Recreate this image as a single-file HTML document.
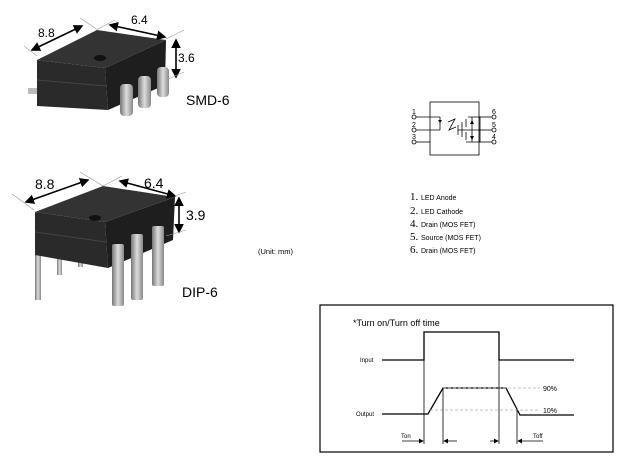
<!DOCTYPE html>
<html><head><style>
body{margin:0;background:#fff;width:619px;height:463px;overflow:hidden;font-family:"Liberation Sans",sans-serif}
svg{position:absolute;left:0;top:0}
</style></head><body>
<svg width="619" height="463" viewBox="0 0 619 463" font-family="Liberation Sans, sans-serif">
<defs>
<marker id="a" markerWidth="6" markerHeight="6" refX="5" refY="3" orient="auto"><path d="M0,0L6,3L0,6z" fill="#000"/></marker>
<marker id="b" markerWidth="6" markerHeight="6" refX="1" refY="3" orient="auto"><path d="M6,0L0,3L6,6z" fill="#000"/></marker>
<linearGradient id="pin" x1="0" x2="1"><stop offset="0" stop-color="#777"/><stop offset=".5" stop-color="#ddd"/><stop offset="1" stop-color="#888"/></linearGradient>
</defs>
<!-- SMD chip -->
<rect x="28" y="88" width="12" height="6" fill="#bbb"/>
<polygon points="37,60 105,68 108,110 37,106" fill="#2a2a2a"/>
<polygon points="105,68 166,40 165,85 108,110" fill="#1e1e1e"/>
<polygon points="37,60 97,30 166,40 105,68" fill="#333"/>
<ellipse cx="100" cy="58" rx="6" ry="3" fill="#111"/>
<line x1="37" y1="80" x2="106" y2="86" stroke="#444"/>
<g fill="url(#pin)"><rect x="120" y="84" width="13" height="32" rx="4"/><rect x="138" y="76" width="13" height="32" rx="4"/><rect x="157" y="67" width="12" height="30" rx="4"/></g>
<g stroke="#000" stroke-width="1.6" fill="none"><line x1="32" y1="50" x2="82" y2="26" marker-end="url(#a)" marker-start="url(#b)"/><line x1="110" y1="25" x2="165" y2="37" marker-end="url(#a)" marker-start="url(#b)"/><line x1="176" y1="40" x2="176" y2="77" marker-end="url(#a)" marker-start="url(#b)"/></g>
<g stroke="#999" stroke-width=".6"><line x1="24" y1="46" x2="37" y2="56"/><line x1="80" y1="18" x2="98" y2="30"/><line x1="98" y1="29" x2="115" y2="20"/><line x1="166" y1="39" x2="184" y2="30"/><line x1="166" y1="80" x2="184" y2="72"/></g>
<g font-size="12"><text x="38" y="37">8.8</text><text x="131" y="24">6.4</text><text x="178" y="62">3.6</text><text x="186" y="105" font-size="14">SMD-6</text></g>
<!-- DIP chip -->
<g fill="url(#pin)"><rect x="35" y="250" width="6" height="50"/><rect x="57" y="255" width="5" height="20"/><rect x="78" y="255" width="5" height="12"/></g>
<polygon points="35,212 105,222 108,268 35,255" fill="#2a2a2a"/>
<polygon points="105,222 175,197 173,240 108,268" fill="#1e1e1e"/>
<polygon points="35,212 103,186 175,197 105,222" fill="#333"/>
<ellipse cx="95" cy="218" rx="6" ry="3" fill="#111"/>
<line x1="35" y1="232" x2="106" y2="242" stroke="#444"/>
<g fill="url(#pin)"><rect x="112" y="244" width="12" height="62" rx="2"/><rect x="131" y="234" width="12" height="66" rx="2"/><rect x="152" y="226" width="12" height="60" rx="2"/></g>
<g stroke="#000" stroke-width="1.6" fill="none"><line x1="26" y1="202" x2="88" y2="180" marker-end="url(#a)" marker-start="url(#b)"/><line x1="120" y1="181" x2="175" y2="196" marker-end="url(#a)" marker-start="url(#b)"/><line x1="179" y1="198" x2="179" y2="232" marker-end="url(#a)" marker-start="url(#b)"/></g>
<g stroke="#999" stroke-width=".6"><line x1="12" y1="194" x2="34" y2="210"/><line x1="80" y1="172" x2="103" y2="186"/><line x1="103" y1="186" x2="122" y2="176"/><line x1="175" y1="196" x2="186" y2="192"/><line x1="166" y1="236" x2="186" y2="230"/></g>
<g font-size="14"><text x="35" y="189">8.8</text><text x="144" y="188">6.4</text><text x="186" y="220">3.9</text><text x="182" y="297">DIP-6</text></g>
<text x="258" y="254" font-size="7.5">(Unit: mm)</text>
<!-- circuit -->
<g stroke="#000" stroke-width=".8" fill="none">
<rect x="430" y="102" width="49" height="53"/>
<line x1="416" y1="117" x2="440" y2="117"/><line x1="440" y1="117" x2="440" y2="130"/><line x1="416" y1="130" x2="440" y2="130"/><line x1="416" y1="142" x2="430" y2="142"/>
<line x1="479" y1="117" x2="492" y2="117"/><line x1="479" y1="130" x2="492" y2="130"/><line x1="479" y1="142" x2="492" y2="142"/>
<polyline points="448,122 455,119 449,130 456,127"/>
<polyline points="468,117 480,117 480,142 466,142"/>
<line x1="462" y1="122" x2="462" y2="137"/><line x1="466" y1="119" x2="466" y2="127"/><line x1="466" y1="132" x2="466" y2="140"/>
<line x1="458" y1="130" x2="480" y2="130"/><line x1="458" y1="125" x2="458" y2="135"/><line x1="472" y1="117" x2="472" y2="142"/>
<circle cx="414" cy="117" r="2"/><circle cx="414" cy="130" r="2"/><circle cx="414" cy="142" r="2"/>
<circle cx="494" cy="117" r="2"/><circle cx="494" cy="130" r="2"/><circle cx="494" cy="142" r="2"/>
</g>
<g fill="#000"><path d="M470,124L474,124L472,120z"/><path d="M470,136L474,136L472,140z"/><path d="M438,120L442,120L440,123z"/></g>
<g font-size="7"><text x="412" y="114">1</text><text x="412" y="127">2</text><text x="412" y="139">3</text><text x="492" y="114">6</text><text x="492" y="127">5</text><text x="492" y="139">4</text></g>
<g font-size="7"><text x="410" y="200"><tspan font-family="Liberation Serif" font-size="11">1. </tspan>LED Anode</text>
<text x="410" y="214"><tspan font-family="Liberation Serif" font-size="11">2. </tspan>LED Cathode</text>
<text x="410" y="227"><tspan font-family="Liberation Serif" font-size="11">4. </tspan>Drain (MOS FET)</text>
<text x="410" y="240"><tspan font-family="Liberation Serif" font-size="11">5. </tspan>Source (MOS FET)</text>
<text x="410" y="253"><tspan font-family="Liberation Serif" font-size="11">6. </tspan>Drain (MOS FET)</text></g>
<!-- timing -->
<rect x="320" y="305" width="293" height="147" fill="none" stroke="#000" stroke-width="1.2"/>
<text x="353" y="326" font-size="9">*Turn on/Turn off time</text>
<text x="360" y="362" font-size="6">Input</text><text x="356" y="416" font-size="6">Output</text>
<g stroke="#000" stroke-width="1.3" fill="none">
<polyline points="382,360 424,360 424,332 499,332 499,360 574,360"/>
<polyline points="382,414 428,414 443,388 506,388 520,415 574,415"/>
</g>
<g stroke="#aaa" stroke-width=".8" stroke-dasharray="3,2"><line x1="443" y1="388" x2="540" y2="388"/><line x1="430" y1="410" x2="540" y2="410"/></g>
<text x="543" y="391" font-size="7">90%</text><text x="543" y="413" font-size="7">10%</text>
<g stroke="#000" stroke-width=".8"><line x1="424" y1="360" x2="424" y2="444"/><line x1="443" y1="388" x2="443" y2="444"/><line x1="499" y1="360" x2="499" y2="444"/><line x1="517" y1="410" x2="517" y2="444"/>
<line x1="402" y1="441" x2="423" y2="441" marker-end="url(#a)"/><line x1="457" y1="441" x2="444" y2="441" marker-end="url(#a)"/>
<line x1="490" y1="441" x2="498" y2="441" marker-end="url(#a)"/><line x1="543" y1="441" x2="518" y2="441" marker-end="url(#a)"/></g>
<text x="401" y="438" font-size="6">Ton</text><text x="533" y="438" font-size="6">Toff</text>
</svg>
</body></html>
